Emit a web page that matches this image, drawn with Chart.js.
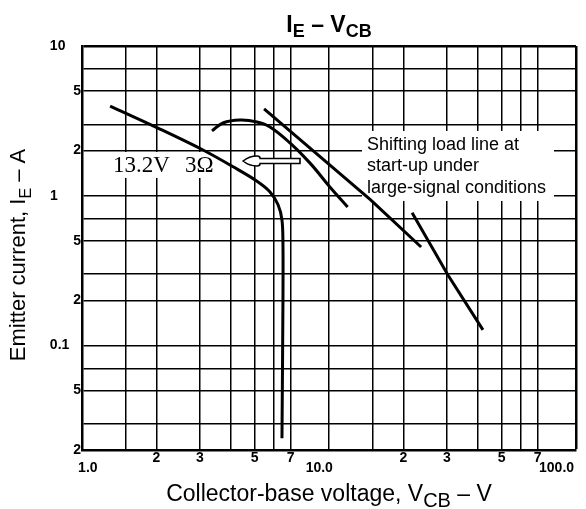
<!DOCTYPE html>
<html>
<head>
<meta charset="utf-8">
<title>IE - VCB</title>
<script src="https://cdn.jsdelivr.net/npm/chart.js@4.4.0/dist/chart.umd.min.js"></script>
<style>
  body { margin: 0; background: #fff; }
  #grafico { display: block; }
</style>
</head>
<body>
<canvas id="grafico" width="586" height="509"></canvas>
<script>
// linee della griglia (carta logaritmica) ed etichette
var xGrid = [1, 1.5, 2, 3, 4, 5, 6, 7, 10, 15, 20, 30, 40, 50, 60, 70, 100];
var xLabels = [['', '   1.0'], '', '2', '3', '', '5', '', '7', ['', '10.0     '], '', '2', '3', '', '5', '', '7', ['', '100.0          ']];
var yGrid = [0.02, 0.03, 0.05, 0.07, 0.1, 0.2, 0.3, 0.5, 0.7, 1, 2, 3, 5, 7, 10];
var yLabels = ['2', '', '5', '', '0.1   ', '2', '', '5', '', '1      ', '2', '', '5', '', '10    '];

// curva 13.2V 3 ohm
var curvaX = [1.30, 2.03, 3.09, 4.09, 5.11, 5.77, 6.22, 6.45, 6.51, 6.51, 6.45];
var curvaY = [3.97, 2.83, 2.02, 1.56, 1.25, 1.06, 0.87, 0.69, 0.47, 0.20, 0.024];

// curva ad arco
var arcoX = [3.36, 3.72, 4.36, 5.11, 5.77, 6.95, 8.38, 10.1, 11.9];
var arcoY = [2.71, 3.06, 3.20, 3.11, 2.88, 2.25, 1.65, 1.14, 0.84];

// rette di carico
var caricoX = [5.46, 14.7, 23.6];
var caricoY = [3.80, 0.94, 0.454];
var carico2X = [21.7, 30.3, 42.0];
var carico2Y = [0.77, 0.295, 0.127];

// freccia: punta, fine della punta, fine del gambo
var frecciaX = [4.49, 5.26, 7.63];
var frecciaY = [1.705];

function punti(xs, ys) {
  return xs.map(function (x, i) {
    return { x: x, y: ys[i] };
  });
}

function linea(xs, ys, tension) {
  return {
    data: punti(xs, ys),
    showLine: true,
    borderColor: '#000',
    borderWidth: 3,
    pointRadius: 0,
    tension: tension,
    fill: false
  };
}

// testo con pedici
function scriviRicco(ctx, parti, x, y) {
  var tot = 0;
  parti.forEach(function (p) {
    ctx.font = p.font;
    tot += ctx.measureText(p.t).width;
  });
  var cx = x - tot / 2;
  ctx.textAlign = 'left';
  ctx.textBaseline = 'alphabetic';
  parti.forEach(function (p) {
    ctx.font = p.font;
    ctx.fillText(p.t, cx, y + (p.dy || 0));
    cx += ctx.measureText(p.t).width;
  });
}

var note = {
  id: 'note',
  beforeDatasetsDraw: function (chart) {
    var ctx = chart.ctx;
    var sx = chart.scales.x;
    var sy = chart.scales.y;
    ctx.save();
    ctx.fillStyle = '#fff';
    // sfondo bianco sotto "13.2V 3Ω"
    var x1 = sx.getPixelForValue(1.335);
    var b1 = sy.getPixelForValue(1.44);
    ctx.fillRect(x1 - 5, b1 - 20, 106, 26);
    // sfondo bianco sotto la nota
    var x2 = sx.getPixelForValue(14.25);
    var b2 = sy.getPixelForValue(2.02);
    ctx.fillRect(x2 - 5, b2 - 19, 192, 70);
    ctx.restore();
  },
  afterDraw: function (chart) {
    var ctx = chart.ctx;
    var sx = chart.scales.x;
    var sy = chart.scales.y;
    var area = chart.chartArea;
    ctx.save();
    ctx.fillStyle = '#000';

    // etichetta della curva
    var b1 = sy.getPixelForValue(1.44);
    ctx.font = '23px "Liberation Serif"';
    ctx.textAlign = 'left';
    ctx.textBaseline = 'alphabetic';
    ctx.fillText('13.2V', sx.getPixelForValue(1.335), b1);
    ctx.fillText('3Ω', sx.getPixelForValue(2.61), b1);

    // nota
    var x2 = sx.getPixelForValue(14.25);
    var b2 = sy.getPixelForValue(2.02);
    ctx.font = '18px "Liberation Sans"';
    ['Shifting load line at', 'start-up under', 'large-signal conditions'].forEach(function (r, i) {
      ctx.fillText(r, x2, b2 + i * 21.5);
    });

    // freccia vuota
    var xp = sx.getPixelForValue(frecciaX[0]);
    var xt = sx.getPixelForValue(frecciaX[1]);
    var xg = sx.getPixelForValue(frecciaX[2]);
    var yf = sy.getPixelForValue(frecciaY[0]);
    ctx.beginPath();
    ctx.moveTo(xp, yf);
    ctx.quadraticCurveTo(xp + 6, yf - 5, xt - 3, yf - 5);
    ctx.quadraticCurveTo(xt, yf - 5, xt, yf - 2.5);
    ctx.lineTo(xg, yf - 2.5);
    ctx.lineTo(xg, yf + 2.5);
    ctx.lineTo(xt, yf + 2.5);
    ctx.quadraticCurveTo(xt, yf + 5, xt - 3, yf + 5);
    ctx.quadraticCurveTo(xp + 6, yf + 5, xp, yf);
    ctx.closePath();
    ctx.fillStyle = '#fff';
    ctx.fill();
    ctx.strokeStyle = '#000';
    ctx.lineWidth = 1.6;
    ctx.stroke();

    ctx.fillStyle = '#000';
    var cx = (area.left + area.right) / 2;
    // titolo
    scriviRicco(ctx, [
      { t: 'I', font: 'bold 23px "Liberation Sans"' },
      { t: 'E', font: 'bold 18px "Liberation Sans"', dy: 5 },
      { t: ' – V', font: 'bold 23px "Liberation Sans"' },
      { t: 'CB', font: 'bold 18px "Liberation Sans"', dy: 5 }
    ], cx, 32);

    // titolo asse x
    scriviRicco(ctx, [
      { t: 'Collector-base voltage, V', font: '23px "Liberation Sans"' },
      { t: 'CB', font: '20px "Liberation Sans"', dy: 6 },
      { t: ' – V', font: '23px "Liberation Sans"' }
    ], cx, 501);

    // titolo asse y
    ctx.translate(25, (area.top + area.bottom) / 2 + 7);
    ctx.rotate(-Math.PI / 2);
    scriviRicco(ctx, [
      { t: 'Emitter current, I', font: '22px "Liberation Sans"' },
      { t: 'E', font: '16px "Liberation Sans"', dy: 6 },
      { t: ' – A', font: '22px "Liberation Sans"' }
    ], 0, 0);
    ctx.restore();
  }
};

function spessore(ctx, bordo) {
  return ctx.tick && ctx.tick.value === bordo ? 2.5 : 1.5;
}

var ctx = document.getElementById('grafico').getContext('2d');
var grafico = new Chart(ctx, {
  type: 'scatter',
  data: {
    datasets: [
      linea(curvaX, curvaY, 0.35),
      linea(arcoX, arcoY, 0.4),
      linea(caricoX, caricoY, 0),
      linea(carico2X, carico2Y, 0)
    ]
  },
  options: {
    responsive: false,
    animation: false,
    devicePixelRatio: 1,
    layout: { padding: { left: 0, right: 10, top: 46, bottom: 0 } },
    plugins: {
      legend: { display: false },
      tooltip: { enabled: false }
    },
    scales: {
      x: {
        type: 'logarithmic',
        min: 1,
        max: 100,
        afterBuildTicks: function (scale) {
          scale.ticks = xGrid.map(function (v) { return { value: v }; });
        },
        afterFit: function (scale) {
          scale.height = 59;
          scale.paddingLeft = 0;
          scale.paddingRight = 0;
        },
        grid: {
          color: '#000',
          lineWidth: function (c) { return spessore(c, 100); },
          drawTicks: false
        },
        border: { color: '#000', width: 2.5 },
        ticks: {
          autoSkip: false,
          maxRotation: 0,
          padding: 3,
          color: '#000',
          font: { family: 'Liberation Sans', weight: 'bold', size: 14, lineHeight: 0.7 },
          callback: function (value, index) {
            return xLabels[index];
          }
        }
      },
      y: {
        type: 'logarithmic',
        min: 0.02,
        max: 10,
        afterBuildTicks: function (scale) {
          scale.ticks = yGrid.map(function (v) { return { value: v }; });
        },
        afterFit: function (scale) {
          scale.width = 82;
          scale.paddingTop = 0;
          scale.paddingBottom = 0;
        },
        grid: {
          color: '#000',
          lineWidth: function (c) { return spessore(c, 10); },
          drawTicks: false
        },
        border: { color: '#000', width: 2.5 },
        ticks: {
          autoSkip: false,
          padding: 1,
          color: '#000',
          font: { family: 'Liberation Sans', weight: 'bold', size: 14 },
          callback: function (value, index) {
            return yLabels[index];
          }
        }
      }
    }
  },
  plugins: [note]
});
</script>
</body>
</html>
